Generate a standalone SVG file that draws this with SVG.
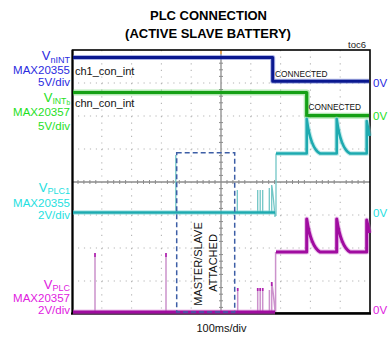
<svg xmlns="http://www.w3.org/2000/svg" width="392" height="339" viewBox="0 0 392 339">
<style>
text{font-family:"Liberation Sans",Arial,sans-serif}
.title{font-size:13px;font-weight:bold;fill:#000;text-anchor:middle}
.lbl{font-size:11.5px;text-anchor:end}
.v{font-size:13px}
.sub{font-size:9px}
.zero{font-size:11.5px}
.small{font-size:11px;fill:#111}
.conn{font-size:8.3px;fill:#111}
.gridh{stroke:#b4b4b4;stroke-width:1.1;stroke-dasharray:1.2 4.76;fill:none}
.gridv{stroke:#b4b4b4;stroke-width:1.1;stroke-dasharray:1.2 5.4;fill:none}
.center{stroke:#8c8c8c;stroke-width:1.3;fill:none}
.ticks{stroke:#8c8c8c;stroke-width:1;fill:none}
.thin-c{stroke:#72c6c6;stroke-width:1.3;fill:none}
.thin-m{stroke:#cc92cc;stroke-width:1.5;fill:none}
.fuzz{fill:none;stroke-opacity:.45;stroke-linejoin:round}
.tr{fill:none;stroke-linejoin:round}
</style>
<rect width="392" height="339" fill="#fff"/>
<g id="title">
<text class="title" x="208.5" y="19.5">PLC CONNECTION</text>
<text class="title" x="208" y="37.5">(ACTIVE SLAVE BATTERY)</text>
<text x="348" y="47.5" style="font-size:9.5px;fill:#222">toc6</text>
</g>
<g id="grid">
<path class="gridh" d="M72,83H370M72,116H370M72,149H370M72,215H370M72,248H370M72,281H370"/>
<path class="gridv" d="M101.8,50V313M131.6,50V313M161.4,50V313M191.2,50V313M250.8,50V313M280.6,50V313M310.4,50V313M340.2,50V313"/>
<path class="center" d="M221,50V313M72,182H370"/>
<path class="ticks" d="M219,56.6H223M219,63.2H223M219,69.8H223M219,76.4H223M219,89.6H223M219,96.2H223M219,102.8H223M219,109.4H223M219,122.6H223M219,129.2H223M219,135.8H223M219,142.4H223M219,155.6H223M219,162.2H223M219,168.8H223M219,175.4H223M219,188.6H223M219,195.2H223M219,201.8H223M219,208.4H223M219,221.6H223M219,228.2H223M219,234.8H223M219,241.4H223M219,254.6H223M219,261.2H223M219,267.8H223M219,274.4H223M219,287.6H223M219,294.2H223M219,300.8H223M219,307.4H223"/>
<path class="ticks" d="M78,180V184M83.9,180V184M89.9,180V184M95.8,180V184M107.8,180V184M113.7,180V184M119.7,180V184M125.6,180V184M137.6,180V184M143.5,180V184M149.5,180V184M155.4,180V184M167.4,180V184M173.3,180V184M179.3,180V184M185.2,180V184M197.2,180V184M203.1,180V184M209.1,180V184M215,180V184M227,180V184M232.9,180V184M238.9,180V184M244.8,180V184M256.8,180V184M262.7,180V184M268.7,180V184M274.6,180V184M286.6,180V184M292.5,180V184M298.5,180V184M304.4,180V184M316.4,180V184M322.3,180V184M328.3,180V184M334.2,180V184M346.2,180V184M352.1,180V184M358.1,180V184M364,180V184"/>
<path d="M221,50V54" stroke="#f0a040" stroke-width="1.5"/>
</g>
<g id="frame">
<rect x="72.5" y="50" width="297.5" height="263" fill="none" stroke="#000" stroke-width="1.6"/>
<path d="M71,313.6H371" stroke="#000" stroke-width="2.4"/>
<path d="M72.5,50V314" stroke="#000" stroke-width="2"/>
</g>
<g id="trace-vnint">
<path class="fuzz" d="M73,57.5H272.7V81.3H369" stroke="#4a5ac8" stroke-width="5"/>
<path class="tr" d="M73,57.5H272.7V81.3H369" stroke="#0a1890" stroke-width="3"/>
<text class="conn" x="275" y="76.5">CONNECTED</text>
</g>
<g id="trace-vintb">
<path class="fuzz" d="M73,92.5H306.7V115.7H369" stroke="#5ccc5c" stroke-width="6"/>
<path class="tr" d="M73,92.5H306.7V115.7H369" stroke="#15a015" stroke-width="3.2"/>
<text class="conn" x="308.5" y="109.5">CONNECTED</text>
</g>
<g id="trace-vplc1">
<path class="thin-c" d="M175.8,212.5V155M237.3,212.5V190M257.7,212.5V190M260.2,212.5V190M262.7,212.5V190M269.3,212.5V188M271.7,212.5V185C273,192 274,205 275,217M276,216V153.5"/>
<path class="fuzz" d="M73,212.5H275M276,153.5H306.7V119C309,136 313,150 320,153.5H336.7V119C339,136 343,150 350,153.5H366.7V121C368,128 369,133 369.5,136" stroke="#80d4d4" stroke-width="5"/>
<path class="tr" d="M73,212.5H275M276,153.5H306.7V119C309,136 313,150 320,153.5H336.7V119C339,136 343,150 350,153.5H366.7V121C368,128 369,133 369.5,136" stroke="#1eaab0" stroke-width="2.6"/>
</g>
<g id="trace-vplc">
<path class="thin-m" d="M95,312V253M166,312V253M237.7,312V288M257.7,312V288M260.2,312V288M262.7,312V288M269.4,312V290M271.7,312V282C273,290 274,300 275,311M275.6,312V252"/>
<path d="M95,253V257M166,253V257M237.7,288V291M257.7,288V291M260.2,288V291M262.7,288V291M271.7,282V286" stroke="#b020b0" stroke-width="1.6"/>
<path class="fuzz" d="M73,312H275M276,252H306.7V219C309,234 313,248 320,252H336.7V219C339,234 343,248 350,252H366.7V220C368,226 369,230 369.5,233" stroke="#d27ad2" stroke-width="5"/>
<path class="tr" d="M73,312H275M276,252H306.7V219C309,234 313,248 320,252H336.7V219C339,234 343,248 350,252H366.7V220C368,226 369,230 369.5,233" stroke="#a00ca0" stroke-width="3"/>
</g>
<g id="attached-box">
<rect x="176.7" y="152.7" width="58" height="159.3" fill="none" stroke="#3d5ea6" stroke-width="1.5" stroke-dasharray="5 3"/>
<text transform="translate(202.2,264) rotate(-90)" text-anchor="middle" style="font-size:11px;fill:#111">MASTER/SLAVE</text>
<text transform="translate(217.3,263) rotate(-90)" text-anchor="middle" style="font-size:11px;fill:#111">ATTACHED</text>
</g>
<g id="labels-ch1" fill="#2b2be0">
<text class="lbl" x="70" y="60"><tspan class="v">V</tspan><tspan class="sub" dy="2.5">nINT</tspan></text>
<text class="lbl" x="70" y="74">MAX20355</text>
<text class="lbl" x="70" y="86">5V/div</text>
<text class="zero" x="373" y="86.5">0V</text>
</g>
<g id="labels-ch2" fill="#1ee01e">
<text class="lbl" x="70" y="101.5"><tspan class="v">V</tspan><tspan class="sub" dy="2.3" style="font-size:8.7px">INT</tspan><tspan dy="0.8" style="font-size:6.5px">b</tspan></text>
<text class="lbl" x="70" y="115.5">MAX20357</text>
<text class="lbl" x="70" y="130">5V/div</text>
<text class="zero" x="373" y="120">0V</text>
</g>
<g id="labels-ch3" fill="#1ee0e0">
<text class="lbl" x="70" y="191.5"><tspan class="v">V</tspan><tspan class="sub" dy="2.5">PLC1</tspan></text>
<text class="lbl" x="70" y="207.3">MAX20355</text>
<text class="lbl" x="70" y="219">2V/div</text>
<text class="zero" x="373" y="217.3">0V</text>
</g>
<g id="labels-ch4" fill="#e020e0">
<text class="lbl" x="70" y="288.5"><tspan class="v">V</tspan><tspan class="sub" dy="2.5">PLC</tspan></text>
<text class="lbl" x="70" y="302">MAX20357</text>
<text class="lbl" x="70" y="314">2V/div</text>
<text class="zero" x="373" y="314">0V</text>
</g>
<g id="annotations">
<text class="small" x="75" y="75">ch1_con_int</text>
<text class="small" x="75" y="106.7">chn_con_int</text>
<text class="small" x="221.5" y="331.5" text-anchor="middle">100ms/div</text>
</g>
</svg>
